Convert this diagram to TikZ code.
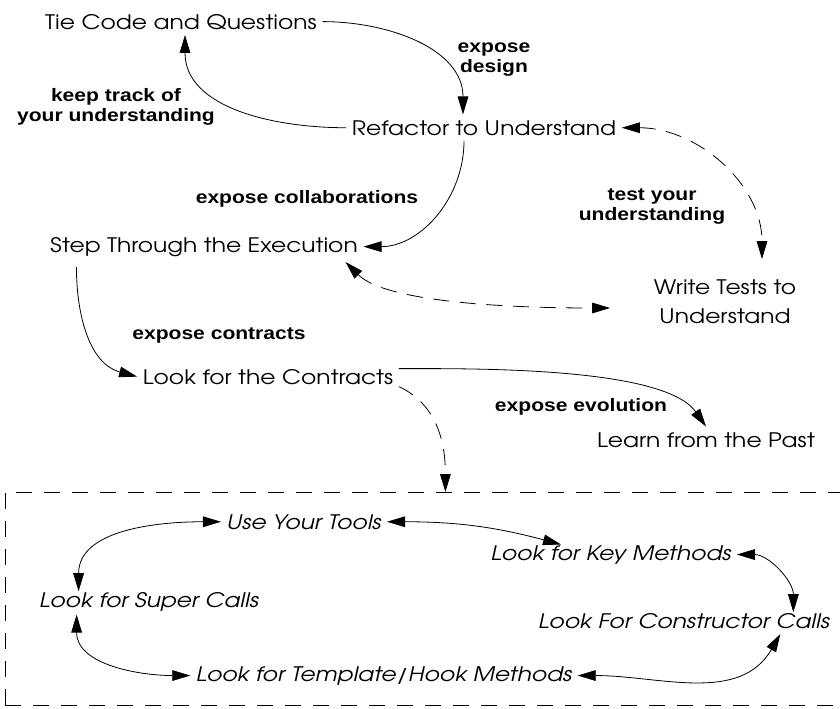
\documentclass[tikz,border=0pt]{standalone}
\usepackage{fontspec}
\newfontfamily\gfont{texgyreadventor}[Extension=.otf,UprightFont=*-regular,ItalicFont=*-italic,FakeStretch=1.17]
\newfontfamily\lfont{Liberation Sans}[FakeStretch=1.17]
\usepackage{tikz}
\usetikzlibrary{arrows.meta}

\begin{document}
\begin{tikzpicture}[->,>={Triangle[length=13.5pt,width=8pt]}
	,x=0.75pt,y=0.75pt
	,line width=0.6pt
	,act/.style={anchor=base,inner sep=4pt,font={\gfont\fontsize{15}{22}\selectfont}}
	,pat/.style={act,font={\gfont\itshape\fontsize{15}{22}\selectfont}}
	,lbl/.style={align=center,inner sep=0pt,font={\lfont\bfseries\fontsize{13.5}{15}\selectfont}}
	,ddash/.style={dash pattern=on 12pt off 8pt}
	,grp/.style={draw,dash pattern=on 12pt off 9pt,anchor=north west,inner sep=0pt,
		minimum width=633.75pt,minimum height=159.75pt}]

  \useasboundingbox (0,0) rectangle (840,-708);

  % activities
  \node[act] (tie)   at (181,-29)  {Tie Code and Questions};
  \node[act] (refac) at (484,-135) {Refactor to Understand};
  \node[act] (step)  at (204,-252) {Step Through the Execution};
  \node[act,anchor=center,align=center] (tests) at (725,-302) {Write Tests to\\Understand};
  \node[act] (contr) at (268,-384) {Look for the Contracts};
  \node[act] (past)  at (706,-447) {Learn from the Past};

  % the loop of patterns
  \node[grp] (detail) at (5,-492) {};
  \node[pat] (tools) at (304,-529) {Use Your Tools};
  \node[pat] (keym)  at (611,-560) {Look for Key Methods};
  \node[pat] (super) at (149,-607) {Look for Super Calls};
  \node[pat] (ctor)  at (684,-628) {Look For Constructor Calls};
  \node[pat] (hook)  at (384,-681) {Look for Template/Hook Methods};

  % labels
  \node[lbl] (ldesign) at (494,-60)  {expose\\design};
  \node[lbl] (ltrack)  at (116,-107) {keep track of\\your understanding};
  \node[lbl] (lcollab) at (307,-199) {expose collaborations};
  \node[lbl] (ltest)   at (652,-207) {test your\\understanding};
  \node[lbl] (lcontr)  at (219,-335) {expose contracts};
  \node[lbl] (levol)   at (581,-407) {expose evolution};

  % top part
  \path (tie.east)   edge [out=0,in=90]    ([shift={(-21,0)}]refac.north);
  \path (refac.west) edge [out=180,in=-90] ([shift={(4,0)}]tie.south);
  \path ([shift={(-20,0)}]refac.south) edge [out=-90,in=0] (step.east);
  \path [<->,ddash] (refac.east) edge [out=0,in=90] ([shift={(37,15)}]tests.north);
  \path [<->,ddash] ([shift={(-18,0)}]step.south east)
        edge [out=-45,in=180,looseness=0.6] ([shift={(-38,-6)}]tests.west);
  \path ([shift={(32,-5)}]step.south west) edge [out=-90,in=165] (contr.west);
  \path ([shift={(0,8)}]contr.east) edge [out=0,in=125,looseness=0.6] (past.north);
  \path [ddash] ([shift={(0,-10)}]contr.east) edge [out=-25,in=90] ([shift={(17.5,0)}]detail.north);

  % pattern loop
  \path [<->] (tools.east) edge [out=0,in=165] ([shift={(-50,-5)}]keym.north);
  \path [<->] (keym.east)  edge [out=0,in=90]  ([shift={(-42,-5)}]ctor.north east);
  \path [<->] (hook.east)  edge [out=0,in=-120] ([shift={(-55,0)}]ctor.south east);
  \path [<->] ([shift={(43,2)}]super.south west) edge [out=-90,in=180] (hook.west);
  \path [<->] ([shift={(45,-5)}]super.north west) edge [out=90,in=180] (tools.west);

\end{tikzpicture}
\end{document}
